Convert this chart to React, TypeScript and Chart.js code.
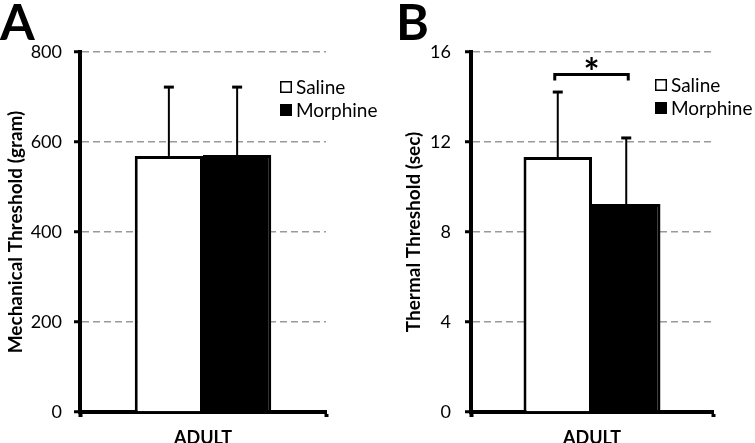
import React, { useEffect, useRef } from "react";
import { Chart, registerables } from "chart.js";

Chart.register(...registerables);

const categories = ["ADULT"];
const seriesNames = ["Saline", "Morphine"];
const mechanicalMeans = [569, 571];
const mechanicalErrors = [153, 151];
const thermalMeans = [11.33, 9.24];
const thermalErrors = [2.89, 2.94];
const mechanicalTicks = [0, 200, 400, 600, 800];
const thermalTicks = [0, 4, 8, 12, 16];
const panelLetters = ["A", "B"];
const yTitles = ["Mechanical Threshold (gram)", "Thermal Threshold (sec)"];
const significanceMark = "*";
const significanceLevel = 15;

const FONT = "Lato, 'Open Sans', sans-serif";

const overlayPlugin = {
  id: "overlay",
  afterDatasetsDraw(chart: any) {
    const ctx = chart.ctx;
    const y = chart.scales.y;
    chart.data.datasets.forEach((ds: any, i: number) => {
      const meta = chart.getDatasetMeta(i);
      meta.data.forEach((bar: any, j: number) => {
        const top = y.getPixelForValue(ds.data[j] + ds.errors[j]);
        ctx.save();
        ctx.strokeStyle = "#000";
        ctx.lineWidth = 2;
        ctx.beginPath();
        ctx.moveTo(bar.x, bar.y);
        ctx.lineTo(bar.x, top);
        ctx.stroke();
        ctx.lineWidth = 3;
        ctx.beginPath();
        ctx.moveTo(bar.x - 5, top);
        ctx.lineTo(bar.x + 5, top);
        ctx.stroke();
        ctx.restore();
      });
    });
  },
  afterDraw(chart: any, _args: any, opts: any) {
    const ctx = chart.ctx;
    const area = chart.chartArea;
    ctx.save();
    // panel letter
    ctx.fillStyle = "#000";
    ctx.font = `bold 50px ${FONT}`;
    ctx.textAlign = "left";
    ctx.textBaseline = "alphabetic";
    ctx.fillText(opts.letter, opts.letterX, 40);
    // legend
    ctx.font = `19px ${FONT}`;
    ctx.textBaseline = "middle";
    chart.data.datasets.forEach((ds: any, i: number) => {
      const lx = area.right + opts.legendDx;
      const ly = opts.legendY + i * 23;
      if (ds.backgroundColor === "#fff") {
        ctx.fillStyle = "#fff";
        ctx.fillRect(lx, ly - 6, 12, 12);
        ctx.strokeStyle = "#000";
        ctx.lineWidth = 1.5;
        ctx.strokeRect(lx + 0.75, ly - 5.25, 10.5, 10.5);
      } else {
        ctx.fillStyle = "#000";
        ctx.fillRect(lx, ly - 6, 12, 12);
      }
      ctx.fillStyle = "#000";
      ctx.fillText(ds.label, lx + 16, ly + 1);
    });
    // significance bracket
    if (opts.sig) {
      const y = chart.scales.y;
      const b0 = chart.getDatasetMeta(0).data[0];
      const b1 = chart.getDatasetMeta(1).data[0];
      const by = y.getPixelForValue(opts.sigLevel);
      const x0 = b0.x - 3;
      const x1 = b1.x + 2;
      ctx.strokeStyle = "#000";
      ctx.lineWidth = 3;
      ctx.beginPath();
      ctx.moveTo(x0, by + 6);
      ctx.lineTo(x0, by);
      ctx.lineTo(x1, by);
      ctx.lineTo(x1, by + 6);
      ctx.stroke();
      ctx.font = `bold 38px ${FONT}`;
      ctx.textAlign = "center";
      ctx.textBaseline = "alphabetic";
      ctx.fillText(opts.sig, (x0 + x1) / 2, by + 11);
    }
    ctx.restore();
  },
};

function makeConfig(
  means: number[],
  errors: number[],
  ticks: number[],
  title: string,
  p: any
): any {
  return {
    type: "bar",
    data: {
      labels: categories,
      datasets: [
        {
          label: seriesNames[0],
          data: [means[0]],
          errors: [errors[0]],
          backgroundColor: "#fff",
          borderColor: "#000",
          borderWidth: 3,
          barPercentage: 1,
          categoryPercentage: p.catPct,
        },
        {
          label: seriesNames[1],
          data: [means[1]],
          errors: [errors[1]],
          backgroundColor: "#000",
          borderColor: "#000",
          borderWidth: 3,
          barPercentage: 1,
          categoryPercentage: p.catPct,
        },
      ],
    },
    options: {
      responsive: false,
      animation: false,
      layout: { padding: { top: 52, right: p.padRight, left: 0, bottom: 0 } },
      plugins: {
        legend: { display: false },
        tooltip: { enabled: false },
        overlay: {
          letter: p.letter,
          letterX: p.letterX,
          legendDx: p.legendDx,
          legendY: p.legendY,
          sig: p.sig,
          sigLevel: significanceLevel,
        },
      },
      scales: {
        x: {
          z: 1,
          offset: true,
          afterFit: (s: any) => {
            s.height = 31;
          },
          grid: {
            display: true,
            offset: true,
            drawOnChartArea: false,
            drawTicks: true,
            tickLength: 5,
            tickWidth: 4,
            tickColor: "#000",
            color: "#000",
          },
          border: { display: true, color: "#000", width: 4 },
          ticks: {
            color: "#000",
            padding: 10,
            font: { family: FONT, size: 18, weight: "bold" },
          },
        },
        y: {
          min: ticks[0],
          max: ticks[ticks.length - 1],
          afterFit: (s: any) => {
            s.width = p.yWidth;
          },
          afterBuildTicks: (s: any) => {
            s.ticks = ticks.map((v) => ({ value: v }));
          },
          grid: {
            color: "#9a9a9a",
            lineWidth: 1.5,
            drawTicks: true,
            tickLength: 6,
            tickWidth: 3,
            tickColor: "#000",
            tickBorderDash: [],
          },
          border: { display: true, color: "#000", width: 4, dash: [7, 4] },
          ticks: {
            color: "#000",
            padding: p.tickPad,
            font: { family: FONT, size: 18 },
          },
          title: {
            display: true,
            text: title,
            color: "#000",
            padding: { top: p.titlePad, bottom: 0 },
            font: { family: FONT, size: 19, weight: "bold" },
          },
        },
      },
    },
    plugins: [overlayPlugin],
  };
}

export default function App() {
  const refA = useRef<HTMLCanvasElement>(null);
  const refB = useRef<HTMLCanvasElement>(null);

  useEffect(() => {
    const a = new Chart(
      refA.current!,
      makeConfig(mechanicalMeans, mechanicalErrors, mechanicalTicks, yTitles[0], {
        catPct: 0.555,
        padRight: 52,
        yWidth: 80,
        tickPad: 12,
        titlePad: 4,
        letter: panelLetters[0],
        letterX: 0,
        legendDx: -46,
        legendY: 87,
        sig: null,
      })
    );
    const b = new Chart(
      refB.current!,
      makeConfig(thermalMeans, thermalErrors, thermalTicks, yTitles[1], {
        catPct: 0.566,
        padRight: 42,
        yWidth: 93,
        tickPad: 14,
        titlePad: 24,
        letter: panelLetters[1],
        letterX: 18,
        legendDx: -58,
        legendY: 85,
        sig: significanceMark,
      })
    );
    return () => {
      a.destroy();
      b.destroy();
    };
  }, []);

  return (
    <div
      style={{
        position: "absolute",
        left: 0,
        top: 0,
        width: 755,
        height: 443,
        background: "#fff",
        overflow: "hidden",
      }}
    >
      <canvas
        ref={refA}
        width={378}
        height={443}
        style={{ position: "absolute", left: 0, top: 0 }}
      />
      <canvas
        ref={refB}
        width={377}
        height={443}
        style={{ position: "absolute", left: 378, top: 0 }}
      />
    </div>
  );
}
